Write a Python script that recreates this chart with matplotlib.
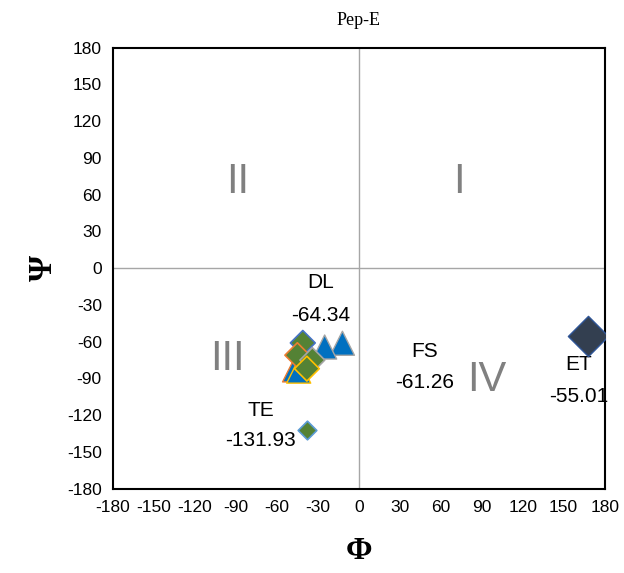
import matplotlib.pyplot as plt

plt.rcParams["axes.unicode_minus"] = False

# Ramachandran-style phi/psi points for Pep-E
tri_phi = [-12, -25, -47, -44]
tri_psi = [-61.26, -64.34, -83, -84]

dia_phi = [-41, -45, -34, -38, -38]
dia_psi = [-61, -71, -75, -82, -131.93]
dia_edges = ["#4472C4", "#ED7D31", "#A5A5A5", "#FFC000", "#5B9BD5"]

et_phi = [168]
et_psi = [-55.01]

ticks = list(range(-180, 181, 30))

fig = plt.figure(figsize=(6.24, 5.73), dpi=100)
ax = fig.add_axes([0.181, 0.147, 0.788, 0.770])

ax.axhline(0, color="#A6A6A6", lw=1, zorder=1)
ax.axvline(0, color="#A6A6A6", lw=1, zorder=1)

ax.scatter(tri_phi, tri_psi, marker="^", s=300, color="#0070C0",
           edgecolors=["#A5A5A5", "#A5A5A5", "#ED7D31", "#FFC000"],
           linewidths=1, zorder=3)
ax.scatter(dia_phi[:4], dia_psi[:4], marker="D", s=160, color="#548235",
           edgecolors=dia_edges[:4], linewidths=1.2, zorder=4)
ax.scatter(dia_phi[4:], dia_psi[4:], marker="D", s=90, color="#548235",
           edgecolors=dia_edges[4:], linewidths=1.2, zorder=4)
ax.scatter(et_phi, et_psi, marker="D", s=420, color="#333F50",
           edgecolors="#2F5597", linewidths=1, zorder=4)

# value labels
lab_font = dict(fontsize=15, family="Liberation Sans", ha="center", va="center")
ax.text(-28, -12, "DL", **lab_font)
ax.text(-28, -39, f"{tri_psi[1]:.2f}", **lab_font)
ax.text(48, -68, "FS", **lab_font)
ax.text(48, -93, f"{tri_psi[0]:.2f}", **lab_font)
ax.text(-72, -116, "TE", **lab_font)
ax.text(-72, -141, f"{dia_psi[4]:.2f}", **lab_font)
ax.text(161, -79, "ET", **lab_font)
ax.text(161, -105, f"{et_psi[0]:.2f}", **lab_font)

# quadrant numerals
quad_font = dict(fontsize=30, family="Liberation Sans", color="#808080",
                 ha="center", va="center")
ax.text(-89, 70, "II", **quad_font)
ax.text(73, 70, "I", **quad_font)
ax.text(-96, -74, "III", **quad_font)
ax.text(94, -91, "IV", **quad_font)

ax.set_xlim(-180, 180)
ax.set_ylim(-180, 180)
ax.set_xticks(ticks)
ax.set_yticks(ticks)
ax.tick_params(length=0, labelsize=12.5, pad=8)
for lbl in ax.get_xticklabels() + ax.get_yticklabels():
    lbl.set_family("Liberation Sans")
for sp in ax.spines.values():
    sp.set_linewidth(1.5)

ax.set_title("Pep-E", fontsize=13, family="Liberation Serif", pad=16)
ax.set_xlabel("Φ", fontsize=23, family="Liberation Serif", fontweight="bold", labelpad=16)
ax.set_ylabel("Ψ", fontsize=24, family="Liberation Serif", fontweight="bold", labelpad=6)

fig.savefig("out.png", dpi=100)
